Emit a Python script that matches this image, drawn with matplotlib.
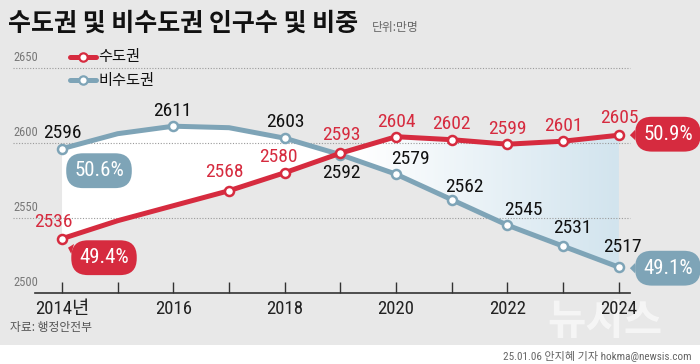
import numpy as np
import matplotlib
matplotlib.use('Agg')
import matplotlib.pyplot as plt
from matplotlib import font_manager
from matplotlib.patches import Rectangle, Polygon
from matplotlib.lines import Line2D
from matplotlib.transforms import offset_copy

# data (만명)
years = [2014, 2015, 2016, 2017, 2018, 2019, 2020, 2021, 2022, 2023, 2024]
capital = [2536, 2548, 2558, 2568, 2580, 2593, 2604, 2602, 2599, 2601, 2605]
non_capital = [2596, 2606, 2611, 2610, 2603, 2592, 2579, 2562, 2545, 2531, 2517]
capital_marked = [0, 3, 4, 5, 6, 7, 8, 9, 10]
non_capital_marked = [0, 2, 4, 5, 6, 7, 8, 9, 10]
share_start = ['49.4%', '50.6%']   # 수도권, 비수도권 (2014)
share_end = ['50.9%', '49.1%']     # 수도권, 비수도권 (2024)
y_ticks = [2500, 2550, 2600, 2650]
x_labels = ['2014년', '', '2016', '', '2018', '', '2020', '', '2022', '', '2024']

RED = '#d62b3f'
BLUE = '#7ea4b7'
BG = '#e8e8e8'
W, H = 700, 364

# a narrow face for the numbers, like the original graphic
names = {f.name for f in font_manager.fontManager.ttflist}
NUM = 'Liberation Sans'
for cand in ['Roboto Condensed', 'Liberation Sans Narrow', 'Archivo Narrow', 'PT Sans Narrow',
             'Arimo Narrow', 'Fira Sans Condensed', 'IBM Plex Sans Condensed',
             'Encode Sans Condensed', 'Asap Condensed', 'Open Sans Condensed']:
    if cand in names:
        NUM = cand
        break
KR = 'Noto Sans CJK KR'
FAM = [NUM, KR, 'DejaVu Sans']
plt.rcParams['font.family'] = FAM

fig = plt.figure(figsize=(7, 3.64), dpi=100)
fig.patch.set_facecolor(BG)


def px(x, y):
    return x / W, 1 - y / H


# white strip at the bottom for the credit line
fig.patches.append(Rectangle((0, 0), 1, 1 - 345 / H, transform=fig.transFigure,
                             fc='white', ec='none', zorder=-5))

ax = fig.add_axes([35 / W, 1 - 292.7 / H, 595 / W, 225 / H])
ax.set_facecolor('none')
ax.set_zorder(2)

# fill between the two lines, white on the left fading to light blue
poly_xy = np.column_stack([np.r_[years, years[::-1]], np.r_[non_capital, capital[::-1]]])
poly = Polygon(poly_xy, closed=True, fc='none', ec='none')
ax.add_patch(poly)
xs = np.linspace(years[0], years[-1], 400)
t = np.clip((xs - 2019.3) / 4.7, 0, 1)[None, :, None]
c0 = np.array([1.0, 1.0, 1.0])
c1 = np.array(matplotlib.colors.to_rgb('#d2e4ee'))
img = c0 * (1 - t) + c1 * t
im = ax.imshow(img, extent=[years[0], years[-1], 2500, 2650], aspect='auto', zorder=1,
               interpolation='bilinear')
im.set_clip_path(poly)
ax.set_xlim(2013.515, 2024.2)
ax.set_ylim(2500, 2650)

# dotted grid + y labels above the lines
ytr = ax.get_yaxis_transform()
for v in y_ticks[1:]:
    ax.plot([-0.037, 1.0], [v, v], transform=ytr, ls=(0, (1, 1.5)), lw=0.8,
            color='#9a9a9a', zorder=2, clip_on=False)
for v in y_ticks:
    ax.annotate(str(v), xy=(-0.037, v), xycoords=ytr, xytext=(0, 4),
                textcoords='offset pixels', ha='left', va='bottom',
                fontsize=9, color='#777777', family=NUM)

# lines
ax.plot(years, non_capital, color=BLUE, lw=3.6, zorder=3, solid_capstyle='round')
ax.plot(years, non_capital, ls='none', marker='o', ms=6.5, mfc='white', mec=BLUE, mew=1.8,
        markevery=non_capital_marked, zorder=4)
ax.plot(years, capital, color=RED, lw=3.6, zorder=5, solid_capstyle='round')
ax.plot(years, capital, ls='none', marker='o', ms=6.5, mfc='white', mec=RED, mew=1.8,
        markevery=capital_marked, zorder=6)

# value labels (pixel offsets from the marker)
red_off = {0: (-9, 17), 3: (-5, 19), 4: (-6, 16), 5: (1, 18), 6: (0, 15), 7: (0, 16),
           8: (0, 15), 9: (0, 15), 10: (1, 17)}
blue_off = {0: (0, 16), 2: (-1, 15), 4: (1, 16), 5: (1, -18), 6: (14, 15), 7: (13, 13),
            8: (16, 15), 9: (9, 18), 10: (4, 20)}
for i, (dx, dy) in red_off.items():
    ax.annotate(str(capital[i]), xy=(years[i], capital[i]), xytext=(dx, dy),
                textcoords='offset pixels', ha='center', va='center',
                fontsize=14, color=RED, family=NUM, zorder=8)
for i, (dx, dy) in blue_off.items():
    ax.annotate(str(non_capital[i]), xy=(years[i], non_capital[i]), xytext=(dx, dy),
                textcoords='offset pixels', ha='center', va='center',
                fontsize=14, color='#111111', family=NUM, zorder=8)


def bubble(x, y, text, color, tip, center):
    tr = offset_copy(ax.transData, fig=fig, x=tip[0], y=tip[1], units='dots')
    ax.annotate(text, xy=(x, y), xycoords=tr, xytext=center, textcoords='offset pixels',
                ha='center', va='center', fontsize=15, color='white', family=NUM,
                zorder=9, annotation_clip=False,
                bbox=dict(boxstyle='round,pad=0.38,rounding_size=0.8', fc=color, ec='none'),
                arrowprops=dict(arrowstyle='wedge,tail_width=0.5,shrink_factor=0.5',
                                fc=color, ec='none', shrinkA=0, shrinkB=0))


bubble(years[0], non_capital[0], share_start[1], BLUE, (7, -29), (30, 7))
bubble(years[0], capital[0], share_start[0], RED, (6, -9), (36, -10))
bubble(years[-1], capital[-1], share_end[0], RED, (11, 0), (38, 1))
bubble(years[-1], non_capital[-1], share_end[1], BLUE, (11, -1), (38, 0))

# axes styling
for s in ['left', 'right', 'top']:
    ax.spines[s].set_visible(False)
ax.spines['bottom'].set_color('#333333')
ax.spines['bottom'].set_linewidth(1.2)
ax.set_xticks(years)
ax.set_xticklabels(x_labels, family=FAM, fontsize=13.5, color='#222222')
ax.tick_params(axis='x', direction='in', length=8, width=1, color='#333333', pad=5)
ax.set_yticks([])

# title, unit, legend
fig.text(*px(8, 24), '수도권 및 비수도권 인구수 및 비중', family=KR, fontweight='bold',
         fontsize=18, va='center', ha='left', color='#111111')
fig.text(*px(372, 28), '단위:만명', family=KR, fontsize=8.5, va='center', ha='left',
         color='#666666')
for yy, col, lab in [(57, RED, '수도권'), (80, BLUE, '비수도권')]:
    fig.lines.append(Line2D([70 / W, 96 / W], [1 - yy / H] * 2, transform=fig.transFigure,
                            color=col, lw=3.6, solid_capstyle='round'))
    fig.lines.append(Line2D([83 / W], [1 - yy / H], transform=fig.transFigure, marker='o',
                            ms=6, mfc='white', mec=col, mew=1.6))
    fig.text(*px(98, yy), lab, family=KR, fontsize=11, va='center', ha='left',
             color='#111111')

# source, watermark, credit
fig.text(*px(10, 327), '자료: 행정안전부', family=KR, fontsize=8.5, va='center', ha='left',
         color='#555555')
fig.text(*px(605, 322), '뉴시스', family=KR, fontsize=30, fontweight='bold', va='center',
         ha='center', color='white', alpha=0.6, zorder=1)
fig.text(*px(692, 356), '25.01.06 안지혜 기자 hokma@newsis.com', family=FAM, fontsize=8,
         va='center', ha='right', color='#666666')

fig.savefig('out.png', dpi=100, facecolor=fig.get_facecolor())
